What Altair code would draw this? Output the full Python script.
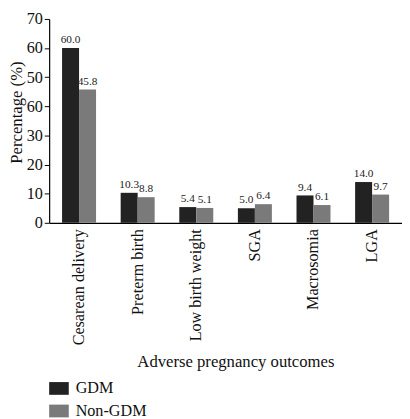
import altair as alt
import pandas as pd

categories = ["Cesarean delivery", "Preterm birth", "Low birth weight", "SGA", "Macrosomia", "LGA"]
groups = ["GDM", "Non-GDM"]
gdm_values = [60.0, 10.3, 5.4, 5.0, 9.4, 14.0]
non_gdm_values = [45.8, 8.8, 5.1, 6.4, 6.1, 9.7]
y_ticks = [0, 10, 20, 30, 40, 50, 60, 70]
colors = ["#222222", "#7a7a7a"]

rows = []
for c, g, n in zip(categories, gdm_values, non_gdm_values):
    rows.append({"outcome": c, "group": "GDM", "value": g, "label": f"{g:.1f}"})
    rows.append({"outcome": c, "group": "Non-GDM", "value": n, "label": f"{n:.1f}"})
df = pd.DataFrame(rows)

FONT = "Liberation Serif"

x_axis = alt.Axis(
    title="Adverse pregnancy outcomes",
    labelAngle=-90,
    labelAlign="right",
    labelBaseline="middle",
    labelPadding=6,
    labelOverlap=False,
    ticks=False,
    domainColor="#000000",
    domainWidth=1.2,
    labelFont=FONT,
    labelFontSize=16.5,
    labelColor="#111111",
    titleFont=FONT,
    titleFontSize=17,
    titleFontWeight="normal",
    titleColor="#111111",
    titleX=190,
    titleY=147,
    titleBaseline="alphabetic",
)
y_axis = alt.Axis(
    title="Percentage (%)",
    values=y_ticks,
    labelExpr="datum.value == 40 ? '60' : datum.label",
    labelOverlap=False,
    grid=False,
    tickSize=5,
    tickColor="#000000",
    domainColor="#000000",
    domainWidth=1.2,
    labelPadding=2,
    labelFont=FONT,
    labelFontSize=16.5,
    labelColor="#111111",
    titleFont=FONT,
    titleFontSize=17,
    titleFontWeight="normal",
    titleColor="#111111",
    titleX=-41,
    titleY=95,
    titleBaseline="top",
    titleAngle=-90,
)
x_scale = alt.Scale(paddingInner=0.42, paddingOuter=0.22)
y_scale = alt.Scale(domain=[0, 70], nice=False)

x = alt.X("outcome:N", sort=categories, scale=x_scale, axis=x_axis)
xoff = alt.XOffset("group:N", sort=groups, scale=alt.Scale(paddingInner=0, paddingOuter=0))
y = alt.Y("value:Q", scale=y_scale, axis=y_axis)

color = alt.Color(
    "group:N",
    sort=groups,
    scale=alt.Scale(domain=groups, range=colors),
    legend=alt.Legend(
        title=None,
        orient="none",
        legendX=0,
        legendY=367,
        direction="vertical",
        symbolType="M-1,-0.65L1,-0.65L1,0.65L-1,0.65Z",
        symbolSize=400,
        symbolStrokeWidth=0,
        labelFont=FONT,
        labelFontSize=16.5,
        labelColor="#111111",
        labelOffset=7,
        rowPadding=4,
    ),
)

bars = alt.Chart(df).mark_bar().encode(x=x, xOffset=xoff, y=y, color=color)
texts = alt.Chart(df).mark_text(dy=-8, font=FONT, fontSize=11.5, color="#222222").encode(
    x=x,
    xOffset=xoff,
    y=y,
    text="label:N",
)

chart = (
    alt.layer(bars, texts)
    .properties(
        width=360,
        height=208,
        autosize=alt.AutoSizeParams(type="none"),
        padding={"left": 42, "top": 7, "right": 0, "bottom": 196},
    )
    .configure_view(stroke=None)
)

chart.save("out.html", embed_options={"renderer": "svg", "actions": False})
